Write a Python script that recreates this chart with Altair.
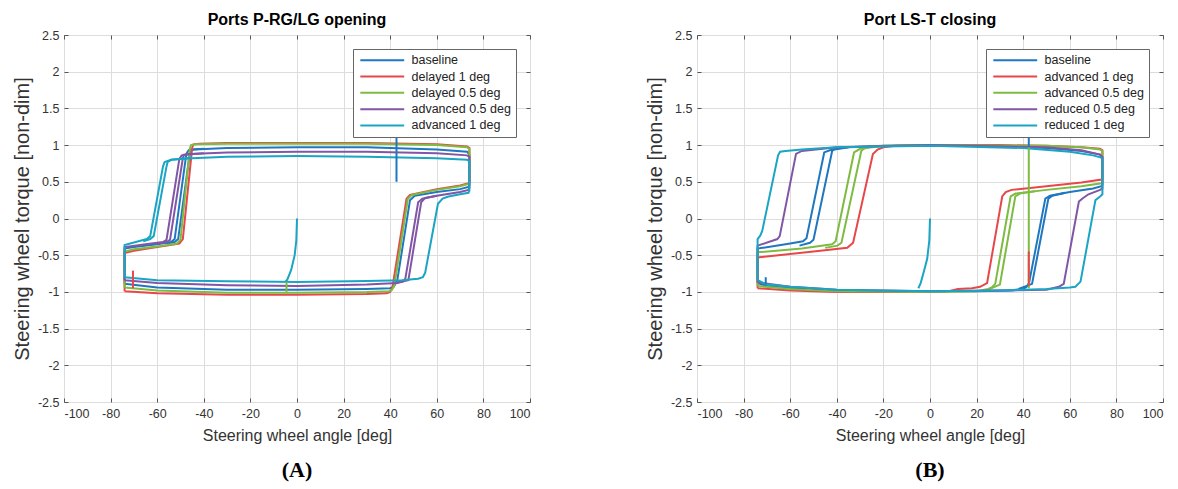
import altair as alt
import pandas as pd

# ---------------- data ----------------
A_names = ["baseline", "delayed 1 deg", "delayed 0.5 deg", "advanced 0.5 deg", "advanced 1 deg"]
B_names = ["baseline", "advanced 1 deg", "advanced 0.5 deg", "reduced 0.5 deg", "reduced 1 deg"]
colors = ["#1f77c0", "#e8474a", "#7dbb42", "#8156a6", "#1aa5c4"]

# Panel A loops
A_blue_x = [-74, -60, -30, 0, 30, 40, 41.5, 43, 48.5, 50.5, 60, 70, 73.6, 74, 74, 73, 60, 30, 0, -30, -44, -46.5, -47.5, -52.5, -54, -60, -70, -74, -74]
A_blue_y = [-0.89, -0.94, -0.97, -0.97, -0.96, -0.95, -0.93, -0.85, 0.25, 0.31, 0.36, 0.40, 0.43, 0.46, 0.87, 0.91, 0.94, 0.97, 0.97, 0.96, 0.94, 0.93, 0.88, -0.28, -0.32, -0.35, -0.39, -0.41, -0.89]
A_red_x = [-74, -60, -30, 0, 30, 38.5, 40, 41, 47, 48.5, 60, 70, 73.6, 74, 74, 73, 60, 30, 0, -30, -42, -44.5, -45, -49, -50.5, -60, -70, -74, -74]
A_red_y = [-0.99, -1.02, -1.04, -1.04, -1.03, -1.02, -1.0, -0.93, 0.27, 0.32, 0.40, 0.45, 0.48, 0.51, 0.96, 0.98, 1.01, 1.03, 1.03, 1.03, 1.02, 1.01, 0.96, -0.28, -0.34, -0.39, -0.44, -0.47, -0.99]
A_green_x = [-74, -60, -30, 0, 30, 39.5, 40.8, 41.8, 47.6, 49.2, 60, 70, 73.6, 74, 74, 73, 60, 30, 0, -30, -43, -45.5, -46, -50, -51.5, -60, -70, -74, -74]
A_green_y = [-0.94, -0.98, -1.01, -1.01, -1.0, -0.99, -0.97, -0.91, 0.27, 0.32, 0.39, 0.44, 0.47, 0.50, 0.95, 0.97, 1.0, 1.02, 1.02, 1.02, 1.01, 1.0, 0.95, -0.29, -0.34, -0.38, -0.42, -0.45, -0.94]
A_purple_x = [-74, -60, -30, 0, 30, 43, 45.5, 46.5, 52, 53.8, 60, 70, 73.6, 74, 74, 73, 60, 30, 0, -30, -46, -49.5, -50.5, -56, -57.5, -65, -74, -74]
A_purple_y = [-0.84, -0.88, -0.91, -0.92, -0.90, -0.88, -0.86, -0.82, 0.22, 0.27, 0.31, 0.36, 0.39, 0.42, 0.84, 0.86, 0.89, 0.91, 0.91, 0.90, 0.88, 0.86, 0.81, -0.29, -0.32, -0.35, -0.39, -0.84]
A_teal_x = [-74, -60, -30, 0, 30, 45, 52, 54, 55, 60.5, 62.5, 65, 70, 73.6, 74, 74, 73, 60, 30, 0, -30, -45, -54, -56.8, -57.5, -63, -64.5, -68, -74, -74]
A_teal_y = [-0.80, -0.84, -0.855, -0.865, -0.85, -0.84, -0.82, -0.80, -0.74, 0.20, 0.27, 0.30, 0.33, 0.35, 0.38, 0.78, 0.80, 0.82, 0.84, 0.85, 0.84, 0.82, 0.80, 0.77, 0.71, -0.24, -0.28, -0.31, -0.36, -0.80]
# Panel A second-cycle traces on the switching edges
A_blue_2_x = [-40, -45, -46, -51, -52.5, -56]
A_blue_2_y = [0.95, 0.94, 0.89, -0.28, -0.32, -0.34]
A_purple_2_x = [-40, -48.5, -49, -54.5, -56, -60]
A_purple_2_y = [0.89, 0.87, 0.82, -0.29, -0.32, -0.34]
A_purple_3_x = [42, 47.8, 53.3, 55, 60]
A_purple_3_y = [-0.88, -0.84, 0.22, 0.28, 0.31]
A_teal_2_x = [-45, -54, -55.5, -56, -61.5, -63, -66]
A_teal_2_y = [0.83, 0.80, 0.77, 0.71, -0.24, -0.28, -0.31]
# Panel A start-up traces
A_teal_start_x = [0, -0.3, -1.0, -2.5, -4.0, -4.8]
A_teal_start_y = [0, -0.3, -0.5, -0.7, -0.82, -0.86]
A_blue_mark_x = [42.7, 42.7]
A_blue_mark_y = [1.16, 0.5]
A_red_mark_x = [-70.4, -70.4]
A_red_mark_y = [-0.71, -0.95]
A_green_mark_x = [-4.5, -4.5]
A_green_mark_y = [-0.84, -1.0]

# Panel B loops
B_blue_x = [-74, -70, -60, -40, -20, 0, 20, 35, 40, 41.5, 42.5, 49.5, 51.5, 60, 70, 73.6, 74, 74, 73, 65, 50, 30, 0, -20, -35, -43, -45.4, -53, -54.5, -60, -74, -74]
B_blue_y = [-0.88, -0.92, -0.95, -0.98, -0.99, -0.99, -0.99, -0.98, -0.96, -0.93, -0.88, 0.27, 0.31, 0.36, 0.41, 0.44, 0.46, 0.83, 0.87, 0.92, 0.96, 0.98, 1.0, 0.99, 0.97, 0.93, 0.90, -0.27, -0.31, -0.34, -0.41, -0.88]
B_red_x = [-74, -60, -40, 0, 8, 12, 18, 21.5, 24.5, 31, 32.5, 35, 50, 65, 73.6, 74, 74, 73, 65, 50, 30, 0, -15, -20, -22.5, -24.5, -33, -35.5, -50, -74, -74]
B_red_y = [-0.95, -0.98, -1.0, -1.0, -0.99, -0.96, -0.95, -0.93, -0.88, 0.30, 0.36, 0.39, 0.44, 0.49, 0.53, 0.55, 0.93, 0.95, 0.97, 0.99, 1.0, 1.0, 0.99, 0.97, 0.94, 0.88, -0.33, -0.40, -0.45, -0.53, -0.95]
B_green_x = [-74, -60, -40, 0, 20, 25, 26.5, 28, 34.6, 36.7, 50, 65, 73.6, 74, 74, 73, 65, 50, 0, -20, -30, -32.6, -40.5, -42, -55, -74, -74]
B_green_y = [-0.92, -0.96, -0.99, -1.0, -0.99, -0.96, -0.94, -0.89, 0.30, 0.34, 0.39, 0.44, 0.48, 0.50, 0.92, 0.94, 0.97, 0.99, 1.0, 0.99, 0.95, 0.90, -0.31, -0.35, -0.41, -0.46, -0.92]
B_purple_x = [-74, -60, -40, 0, 30, 50, 55.3, 57.4, 63.9, 65.3, 68, 73, 74, 74, 73, 65, 50, 0, -40, -55, -57.5, -64.5, -65.5, -74, -74]
B_purple_y = [-0.87, -0.93, -0.97, -0.99, -0.98, -0.97, -0.93, -0.89, 0.23, 0.27, 0.33, 0.39, 0.41, 0.84, 0.87, 0.93, 0.97, 1.0, 0.97, 0.92, 0.88, -0.24, -0.28, -0.37, -0.87]
B_teal_x = [-74, -70, -60, -40, -20, 0, 30, 50, 60, 62.4, 64.6, 71, 73, 74, 74, 73.5, 70, 60, 40, 0, -40, -55, -62, -64.3, -65.2, -72, -72.8, -74, -74]
B_teal_y = [-0.84, -0.90, -0.93, -0.97, -0.98, -0.99, -0.98, -0.96, -0.94, -0.93, -0.86, 0.25, 0.30, 0.33, 0.80, 0.83, 0.86, 0.91, 0.96, 0.99, 0.97, 0.94, 0.92, 0.91, 0.86, -0.17, -0.23, -0.28, -0.84]
# Panel B second-cycle traces on the switching edges
B_blue_2_x = [-35, -41, -42, -50, -51.5, -56]
B_blue_2_y = [0.97, 0.95, 0.92, -0.29, -0.33, -0.37]
B_blue_3_x = [38, 43.8, 50.8, 52.5, 58]
B_blue_3_y = [-0.96, -0.89, 0.27, 0.31, 0.35]
B_green_2_x = [-24, -28.5, -29.5, -38, -39.7, -45]
B_green_2_y = [0.99, 0.95, 0.92, -0.33, -0.37, -0.40]
B_green_3_x = [25, 30, 36.6, 38.5, 45]
B_green_3_y = [-0.97, -0.90, 0.30, 0.34, 0.37]
# Panel B start-up traces
B_teal_start_x = [0, -0.3, -1.2, -2.6, -4.0, -5.0]
B_teal_start_y = [0, -0.3, -0.55, -0.72, -0.88, -0.95]
B_blue_mark_x = [42.4, 42.4]
B_blue_mark_y = [1.16, 0.97]
B_green_mark_x = [42.4, 42.4]
B_green_mark_y = [0.97, -0.95]
B_red_mark_x = [42.4, 42.4]
B_red_mark_y = [-0.45, -0.92]
B_blue_tick_x = [-70.5, -70.5]
B_blue_tick_y = [-0.80, -0.90]

x_ticks = [-100, -80, -60, -40, -20, 0, 20, 40, 60, 80, 100]
y_ticks = [-2.5, -2, -1.5, -1, -0.5, 0, 0.5, 1, 1.5, 2, 2.5]

A_traces = [
    (0, A_blue_x, A_blue_y), (0, A_blue_2_x, A_blue_2_y),
    (1, A_red_x, A_red_y), (2, A_green_x, A_green_y),
    (3, A_purple_x, A_purple_y), (3, A_purple_2_x, A_purple_2_y), (3, A_purple_3_x, A_purple_3_y),
    (4, A_teal_x, A_teal_y), (4, A_teal_2_x, A_teal_2_y),
    (0, A_blue_mark_x, A_blue_mark_y), (1, A_red_mark_x, A_red_mark_y),
    (2, A_green_mark_x, A_green_mark_y), (4, A_teal_start_x, A_teal_start_y),
]
B_traces = [
    (0, B_blue_x, B_blue_y), (0, B_blue_2_x, B_blue_2_y), (0, B_blue_3_x, B_blue_3_y),
    (1, B_red_x, B_red_y),
    (2, B_green_x, B_green_y), (2, B_green_2_x, B_green_2_y), (2, B_green_3_x, B_green_3_y),
    (3, B_purple_x, B_purple_y), (4, B_teal_x, B_teal_y),
    (0, B_blue_mark_x, B_blue_mark_y), (2, B_green_mark_x, B_green_mark_y),
    (1, B_red_mark_x, B_red_mark_y), (0, B_blue_tick_x, B_blue_tick_y),
    (4, B_teal_start_x, B_teal_start_y),
]


def build(traces, names):
    rows = []
    for k, (si, xs, ys) in enumerate(traces):
        for i, (xv, yv) in enumerate(zip(xs, ys)):
            rows.append({"series": names[si], "seg": f"s{k:02d}", "i": i, "x": xv, "y": yv})
    return pd.DataFrame(rows)


FONT = "Liberation Sans, Arial, sans-serif"
W, H = 466, 367
XS = alt.Scale(domain=[-100, 100], nice=False)
YS = alt.Scale(domain=[-2.5, 2.5], nice=False)
TICKC = "#555555"


def tick_axis(orient, offset):
    return alt.Axis(orient=orient, offset=offset, labels=False, title=None, grid=False,
                    domain=False, ticks=True, tickSize=4, tickColor=TICKC, tickWidth=1)


def panel(traces, names, title, letter):
    df = build(traces, names)
    lines = alt.Chart(df).mark_line(strokeWidth=2, clip=True).encode(
        x=alt.X("x:Q", scale=XS,
                axis=alt.Axis(values=x_ticks, title="Steering wheel angle [deg]",
                              labelExpr="'' + datum.value")),
        y=alt.Y("y:Q", scale=YS,
                axis=alt.Axis(values=y_ticks, title="Steering wheel torque [non-dim]",
                              labelExpr="'' + datum.value")),
        color=alt.Color("series:N", scale=alt.Scale(domain=names, range=colors),
                        legend=alt.Legend(title=None, orient="none", legendX=289, legendY=14)),
        detail="seg:N",
        order="i:Q",
    )
    # inward ticks on all four sides of the box
    t1 = alt.Chart(df).mark_point(opacity=0).encode(
        x=alt.X("x:Q", scale=XS, axis=tick_axis("top", -H)),
        y=alt.Y("y:Q", scale=YS, axis=tick_axis("right", -W)),
    )
    t2 = alt.Chart(df).mark_point(opacity=0).encode(
        x=alt.X("x:Q", scale=XS, axis=tick_axis("bottom", -H)),
        y=alt.Y("y:Q", scale=YS, axis=tick_axis("left", -W)),
    )
    lab = alt.Chart(pd.DataFrame({"t": [letter]})).mark_text(
        font="Liberation Serif", fontSize=22, fontWeight="bold", color="#000000",
        baseline="middle", align="center"
    ).encode(text="t:N", x=alt.value(W / 2), y=alt.value(H + 68))
    return alt.layer(lines, t1, t2, lab).resolve_axis(x="independent", y="independent").properties(
        width=W, height=H,
        title=alt.TitleParams(title, font=FONT, fontSize=16, fontWeight="bold",
                              color="#000000", offset=1),
    )


chart = alt.hconcat(
    panel(A_traces, A_names, "Ports P-RG/LG opening", "(A)"),
    panel(B_traces, B_names, "Port LS-T closing", "(B)"),
    spacing=113,
).resolve_scale(color="independent").configure(
    padding={"left": 3, "top": 3, "right": 0, "bottom": 0},
    background="white",
).configure_view(
    stroke="#666666", strokeWidth=1,
).configure_axis(
    grid=True, gridColor="#dddddd", gridWidth=1, domain=False, ticks=False,
    labelFont=FONT, labelFontSize=12.5, labelColor="#333333", labelPadding=5,
    titleFont=FONT, titleColor="#333333", titleFontWeight="normal",
).configure_axisX(
    titleFontSize=16, titlePadding=8,
).configure_axisY(
    titleFontSize=20, titlePadding=5,
).configure_legend(
    symbolType="M-5,0H5", symbolSize=77, symbolStrokeWidth=2, symbolOffset=18,
    labelFont=FONT, labelFontSize=12.5, labelColor="#222222", labelOffset=23,
    padding=5, rowPadding=3.3, strokeColor="#666666", fillColor="white", cornerRadius=0,
)

chart.save("out.html", embed_options={"renderer": "svg", "actions": False})
